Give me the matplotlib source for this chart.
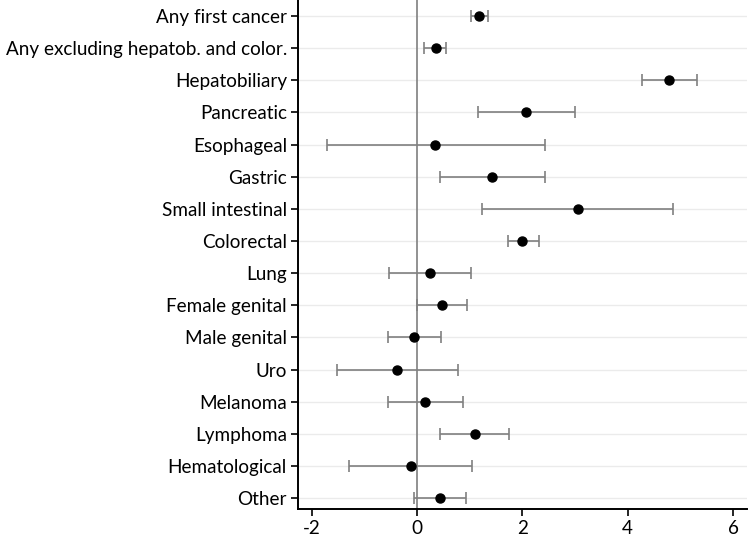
import matplotlib
matplotlib.use("Agg")
import matplotlib.pyplot as plt

# Estimates and 95% CI bounds, top row first
categories = ["Any first cancer", "Any excluding hepatob. and color.", "Hepatobiliary",
              "Pancreatic", "Esophageal", "Gastric", "Small intestinal", "Colorectal",
              "Lung", "Female genital", "Male genital", "Uro", "Melanoma", "Lymphoma",
              "Hematological", "Other"]
estimate = [1.18, 0.35, 4.79, 2.07, 0.34, 1.43, 3.05, 2.00,
            0.25, 0.47, -0.06, -0.38, 0.15, 1.09, -0.11, 0.44]
lower = [1.02, 0.13, 4.28, 1.16, -1.71, 0.44, 1.23, 1.72,
         -0.54, 0.00, -0.56, -1.52, -0.56, 0.44, -1.29, -0.06]
upper = [1.34, 0.55, 5.31, 3.00, 2.42, 2.42, 4.85, 2.31,
         1.02, 0.94, 0.46, 0.78, 0.88, 1.75, 1.05, 0.93]
xticks = [-2, 0, 2, 4, 6]

plt.rcParams['font.family'] = ['Lato', 'DejaVu Sans']

fig = plt.figure(figsize=(7.49, 5.4), dpi=100)
ax = fig.add_axes([0.398, 0.0574, 0.599, 0.9426])

ypos = list(range(len(categories)))
err = [[e - l for e, l in zip(estimate, lower)], [u - e for e, u in zip(estimate, upper)]]

# light horizontal grid
for y in ypos:
    ax.axhline(y, color="#ebebeb", lw=1.0, zorder=0)
ax.axvline(0, color="#7f7f7f", lw=1.2, zorder=1)

ax.errorbar(estimate, ypos, xerr=err, fmt="o", color="black", ms=6.5,
            ecolor="#808080", elinewidth=1.2, capsize=4, capthick=1.2, zorder=3)

ax.set_yticks(ypos)
ax.set_yticklabels(categories, fontsize=13.6)
ax.set_xticks(xticks)
ax.set_xticklabels([str(t) for t in xticks], fontsize=13.6)
ax.set_xlim(-2.26, 6.26)
ax.set_ylim(15.34, -0.5)

for s in ["top", "right"]:
    ax.spines[s].set_visible(False)
for s in ["left", "bottom"]:
    ax.spines[s].set_linewidth(1.4)
ax.tick_params(axis="both", length=5, width=1.2, color="black", pad=3)

fig.savefig("out.png", dpi=100)
